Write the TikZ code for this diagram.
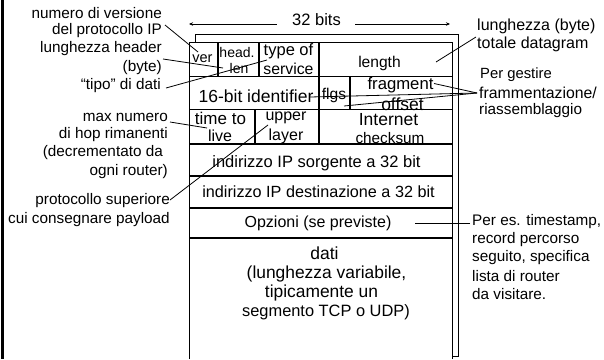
\documentclass[tikz,border=0pt]{standalone}
\usepackage{fontspec}
\setmainfont{Liberation Sans}
\usetikzlibrary{arrows.meta}
\tikzset{
  x=1pt,y=-1pt,
  lab/.style={inner sep=0pt,font=\fontsize{#1}{#1}\selectfont},
  lab/.default=15.3,
  left lab/.style={lab,anchor=east,align=right},
  right lab/.style={lab,anchor=west,align=left},
  mid lab/.style={lab,anchor=center,align=center},
  box/.style={draw=black,line width=1.4pt},
  thin box/.style={draw=black,line width=0.9pt},
  ptr/.style={draw=black,line width=0.8pt},
  dim/.style={draw=black,line width=0.8pt,-{Stealth[length=4pt,width=3.5pt]}}
}
\begin{document}
\begin{tikzpicture}
\useasboundingbox (0,0) rectangle (604,359);
\fill[white] (0,0) rectangle (604,359);
\draw[line width=2.5pt] (2.3,0) -- (2.3,359);
% frames
\draw[thin box] (195,42) -- (195,34) -- (458,34) -- (458,356) -- (452,356);
\draw[thin box] (189,359) -- (189,42) -- (452,42) -- (452,359);
% rows
\draw[thin box] (189,76) -- (452,76);
\draw[box] (189,109.5) -- (452,109.5);
\draw[box] (189,144) -- (452,144);
\draw[box] (189,176) -- (452,176);
\draw[box] (189,208) -- (452,208);
\draw[box] (189,238) -- (452,238);
% cells
\draw[box] (218,42) -- (218,76);
\draw[box] (259,42) -- (259,76);
\draw[box] (319,42) -- (319,76);
\draw[box] (319,76) -- (319,109.5);
\draw[box] (350,76) -- (350,109.5);
\draw[box] (255,109.5) -- (255,144);
\draw[box] (319,109.5) -- (319,144);
% field labels
\node[mid lab,lab=14.5] (ver) at (202.5,59) {ver};
\node[mid lab,lab=14] (head) at (237,52) {head.};
\node[mid lab,lab=14] (len) at (239,68) {len};
\node[mid lab,lab=16.5] (tos1) at (288.5,51.5) {type of};
\node[mid lab,lab=15.8] (tos2) at (288.5,68.5) {service};
\node[mid lab,lab=15.6] (length) at (379.5,63) {length};
\node[mid lab,lab=17.5] (ident) at (256,96) {16-bit identifier};
\node[mid lab,lab=15.6] (flgs) at (334,95) {flgs};
\node[mid lab,lab=16.7] (frag1) at (400.5,85) {fragment};
\node[mid lab,lab=17.5] (frag2) at (402.5,104) {offset};
\node[mid lab,lab=17] (ttl1) at (220.5,118) {time to};
\node[mid lab,lab=16] (ttl2) at (220,136) {live};
\node[mid lab,lab=16] (up1) at (286,118) {upper};
\node[mid lab,lab=16] (up2) at (286,136) {layer};
\node[mid lab,lab=17.5] (inet) at (388.5,120) {Internet};
\node[lab=15.3,anchor=center] (chk) at (390,138) {checksum};
\node[mid lab,lab=16.5] (src) at (316.5,163) {indirizzo IP sorgente a 32 bit};
\node[mid lab,lab=16.2] (dst) at (318.5,192) {indirizzo IP destinazione a 32 bit};
\node[mid lab,lab=16] (opt) at (318,223) {Opzioni (se previste)};
\node[mid lab,lab=17.5] (data) at (324.5,253) {dati};
\node[mid lab,lab=17.4] (d2) at (326.5,273.5) {(lunghezza variabile,};
\node[mid lab,lab=17.4] (d3) at (321.5,293) {tipicamente un};
\node[mid lab,lab=16.4] (d4) at (326,312) {segmento TCP o UDP)};
% 32 bits
\node[mid lab,lab=16.5] (bits) at (316.5,20) {32 bits};
\coordinate (bl) at (189,24);
\coordinate (br) at (450,24);
\draw[dim] (bits.west) ++(-15,4) -- (bl);
\draw[dim] (bits.east) ++(14,4) -- (br);
% left annotations
\node[left lab] (a1) at (162,13.5) {numero di versione};
\node[left lab] (a2) at (162,31) {del protocollo IP};
\node[left lab] (a3) at (162,49) {lunghezza header};
\node[left lab] (a4) at (162,68) {(byte)};
\node[left lab] (a5) at (161,86) {``tipo'' di dati};
\node[left lab] (a6) at (168,117) {max numero};
\node[left lab] (a7) at (168,135) {di hop rimanenti};
\node[left lab] (a8) at (163,153) {(decrementato da};
\node[left lab] (a9) at (168,172) {ogni router)};
\node[left lab] (a10) at (170,201) {protocollo superiore};
\node[left lab] (a11) at (170,220) {cui consegnare payload};
% right annotations
\node[right lab,lab=16] (b1) at (477,26) {lunghezza (byte)};
\node[right lab,lab=16] (b2) at (477,44) {totale datagram};
\node[right lab,lab=14.8] (b3) at (480,75) {Per gestire};
\node[right lab,lab=15.8] (b4) at (479,93) {frammentazione/};
\node[right lab] (b5) at (479,111) {riassemblaggio};
\node[right lab] (c1) at (472,222) {Per es. timestamp,};
\node[right lab] (c2) at (472,240) {record percorso};
\node[right lab] (c3) at (472,258) {seguito, specifica};
\node[right lab] (c4) at (472,276) {lista di router};
\node[right lab] (c5) at (472,294) {da visitare.};
% pointers
\coordinate (p1) at (165,25);
\coordinate (p1e) at (198,52);
\coordinate (p3) at (163,59);
\coordinate (p3e) at (223,68);
\coordinate (p5) at (166,88);
\coordinate (p5e) at (267,60);
\coordinate (p6) at (170,122);
\coordinate (p6e) at (207,128);
\coordinate (p10) at (170,200);
\coordinate (p10e) at (268,125);
\coordinate (r1) at (476,37);
\coordinate (r1e) at (436,62);
\coordinate (r2) at (477,93);
\coordinate (r2a) at (434,83.5);
\coordinate (r2b) at (310,97);
\coordinate (r2c) at (344,106);
\coordinate (c0) at (470,223);
\coordinate (c0e) at (415,223);
\draw[ptr] (p1) -- (p1e);
\draw[ptr] (p3) -- (p3e);
\draw[ptr] (p5) -- (p5e);
\draw[ptr] (p6) -- (p6e);
\draw[ptr] (p10) -- (p10e);
\draw[ptr] (r1) -- (r1e);
\draw[ptr] (r2) -- (r2a);
\draw[ptr] (r2) -- (r2b);
\draw[ptr] (r2) -- (r2c);
\draw[ptr] (c0) -- (c0e);
\end{tikzpicture}
\end{document}
